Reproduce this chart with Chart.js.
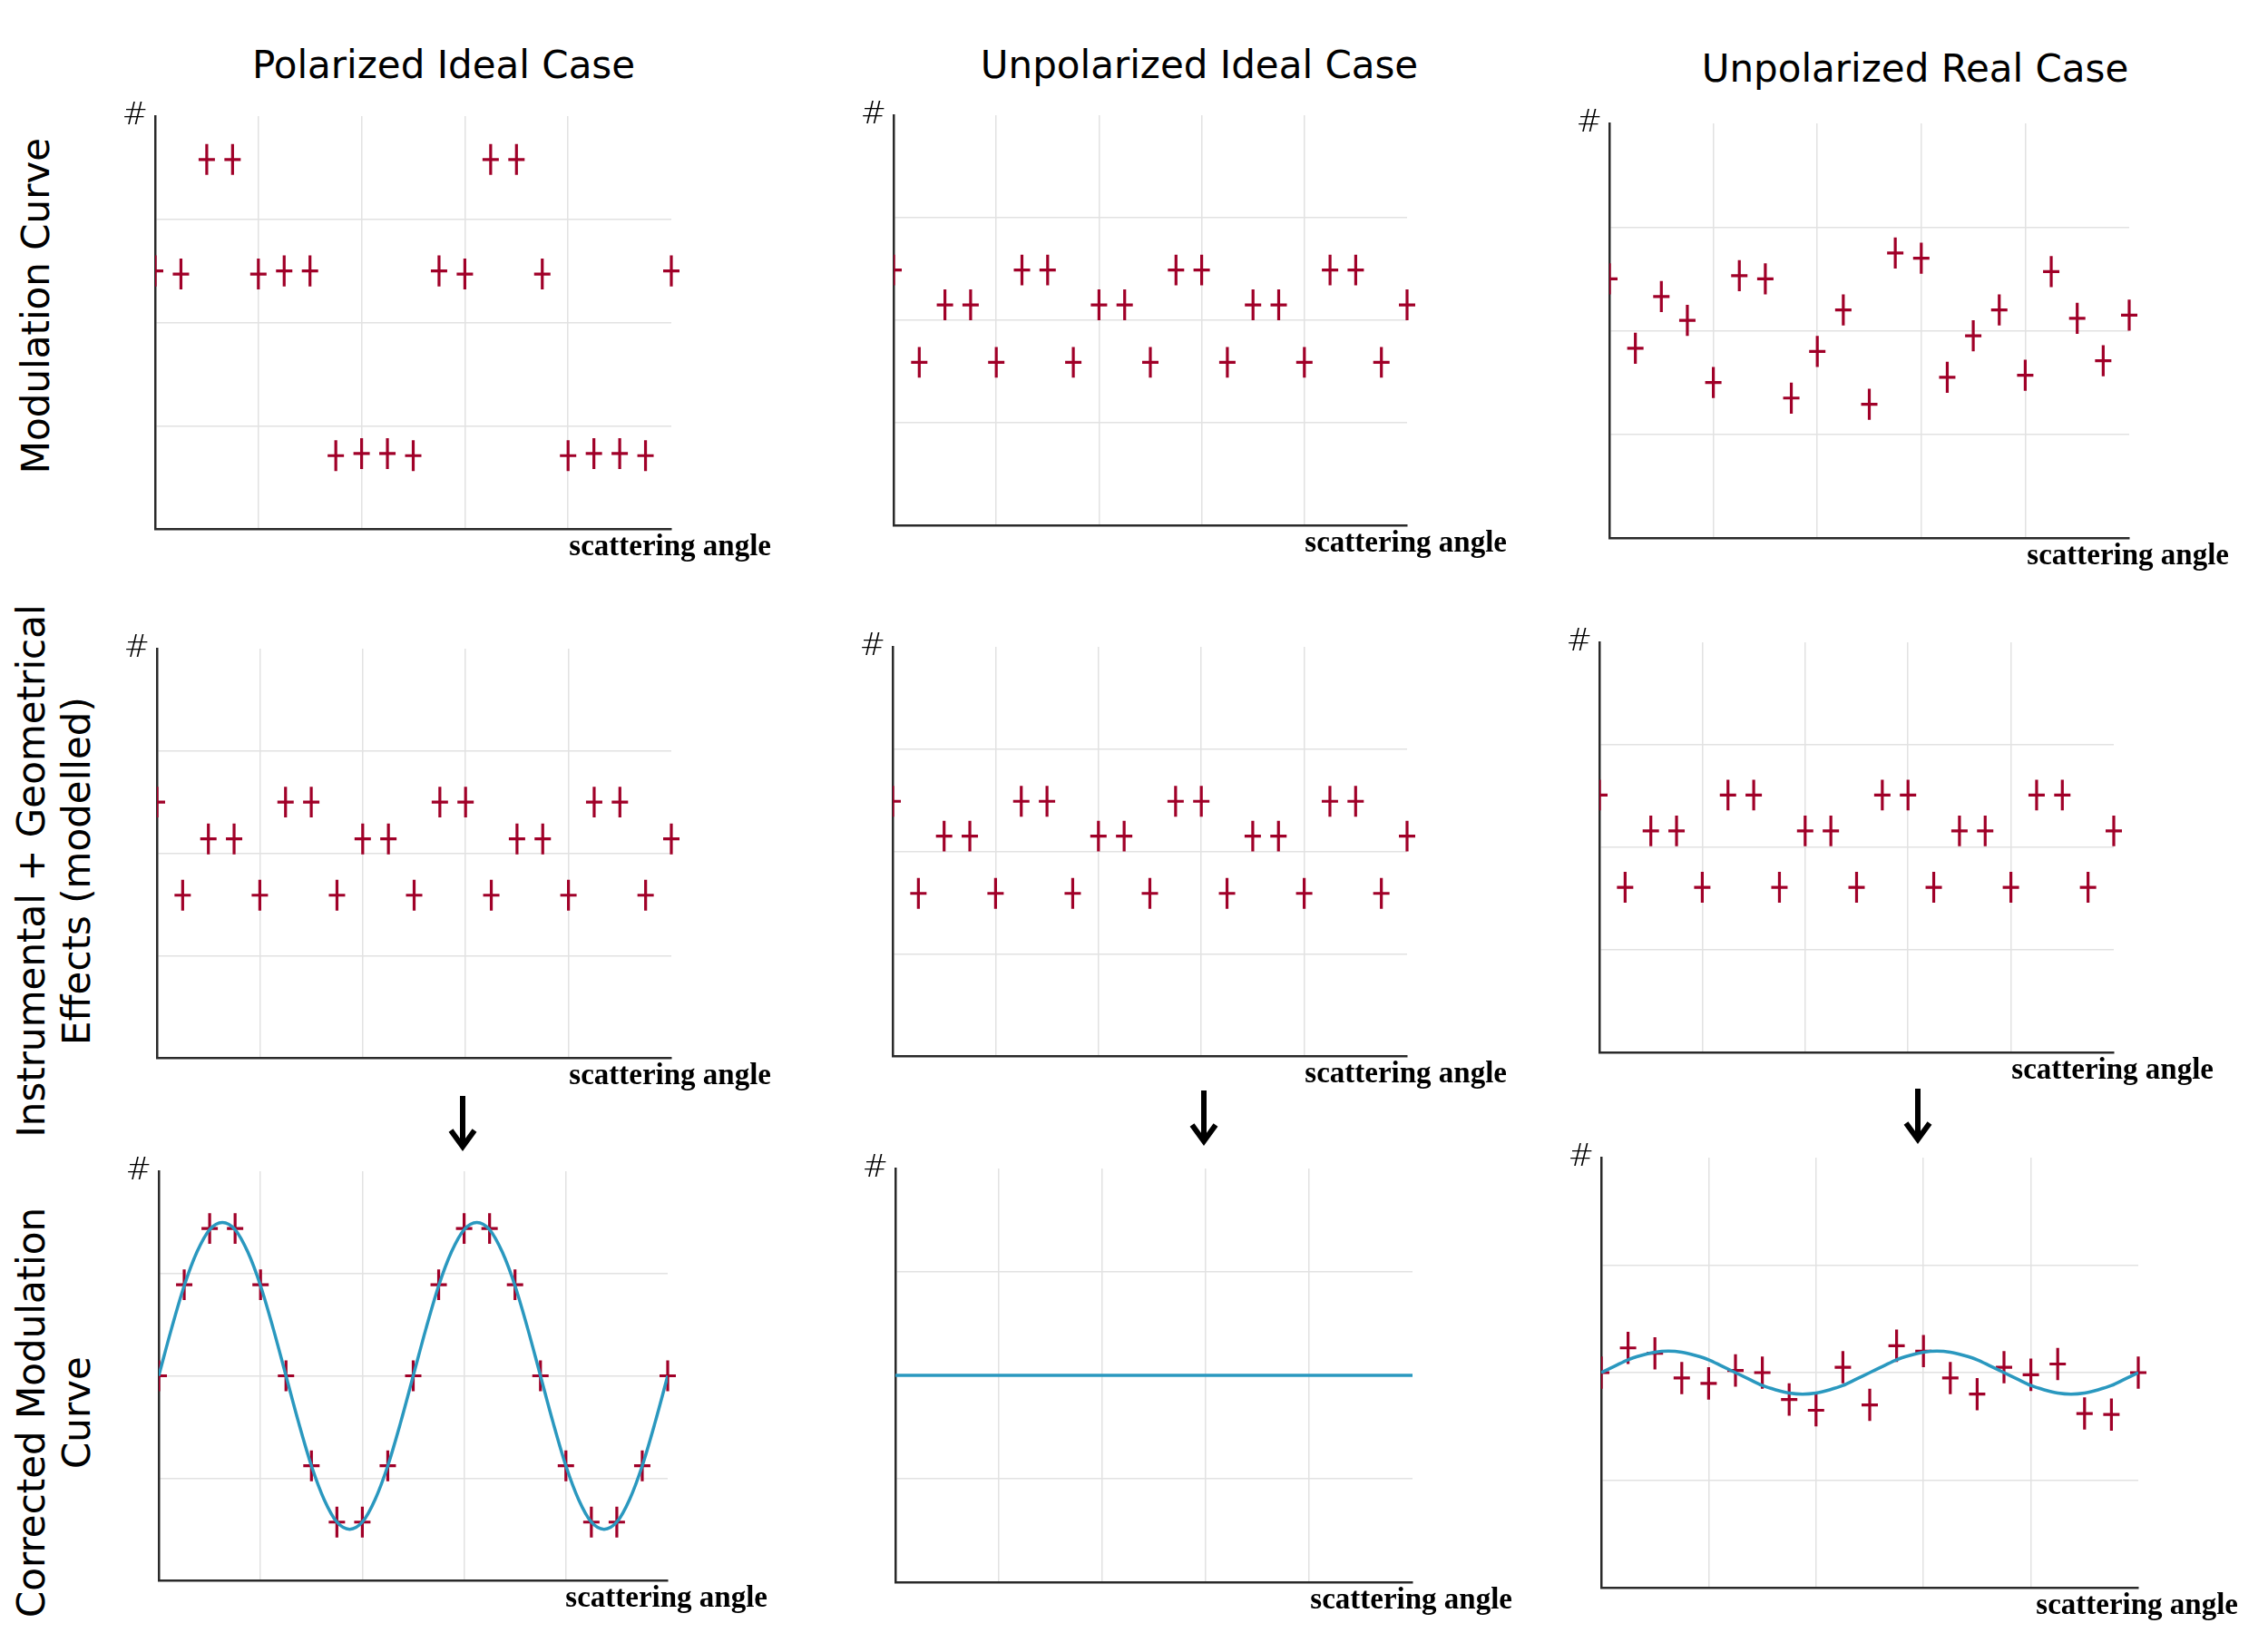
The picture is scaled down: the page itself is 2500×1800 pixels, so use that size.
<!DOCTYPE html>
<html>
<head>
<meta charset="utf-8">
<title>Modulation curves</title>
<script src="https://cdn.jsdelivr.net/npm/chart.js@4.4.1/dist/chart.umd.min.js"></script>
<style>
  body { margin: 0; width: 2500px; height: 1800px; background: #fff; position: relative; overflow: hidden;
         font-family: "DejaVu Sans", sans-serif; color: #000; }
  .title { position: absolute; font-size: 42px; white-space: nowrap; transform: translate(-50%, -50%); }
  .rowlab { position: absolute; font-size: 42px; line-height: 50px; text-align: center; white-space: nowrap;
            transform: translate(-50%, -50%) rotate(-90deg); }
  canvas { position: absolute; }
  svg { position: absolute; left: 0; top: 0; }
</style>
</head>
<body>

<div class="title" style="left:489px; top:71px">Polarized Ideal Case</div>
<div class="title" style="left:1322px; top:71px">Unpolarized Ideal Case</div>
<div class="title" style="left:2111px; top:75px">Unpolarized Real Case</div>

<div class="rowlab" style="left:40px; top:337px">Modulation Curve</div>
<div class="rowlab" style="left:60px; top:960px">Instrumental + Geometrical<br>Effects (modelled)</div>
<div class="rowlab" style="left:60px; top:1557px">Corrected Modulation<br>Curve</div>

<svg width="2500" height="1800">
  <g stroke="#000" stroke-width="6" fill="none" stroke-linecap="butt">
    <path d="M510 1208 V1262 M497 1246 L510 1264 L523 1246"/>
    <path d="M1327 1202 V1256 M1314 1240 L1327 1258 L1340 1240"/>
    <path d="M2114 1200 V1254 M2101 1238 L2114 1256 L2127 1238"/>
  </g>
</svg>

<canvas id="p11"></canvas>
<canvas id="p12"></canvas>
<canvas id="p13"></canvas>
<canvas id="p21"></canvas>
<canvas id="p22"></canvas>
<canvas id="p23"></canvas>
<canvas id="p31"></canvas>
<canvas id="p32"></canvas>
<canvas id="p33"></canvas>

<script>
// scattering angle bins (deg)
const angles = [0, 18, 36, 54, 72, 90, 108, 126, 144, 162, 180, 198, 216, 234, 252, 270, 288, 306, 324, 342, 360];
const fitAngles = [0, 9, 18, 27, 36, 45, 54, 63, 72, 81, 90, 99, 108, 117, 126, 135, 144, 153, 162, 171, 180,
                   189, 198, 207, 216, 225, 234, 243, 252, 261, 270, 279, 288, 297, 306, 315, 324, 333, 342, 351, 360];
const flatAngles = [0, 360];

// grid positions (no tick labels are shown)
const xTicks = [0, 72, 144, 216, 288, 360];
const yTicks = [0, 1, 2, 3, 4];

// row 1: measured modulation curves
const polModulation = [2.5, 2.47, 3.58, 3.58, 2.47, 2.5, 2.5, 0.71, 0.73, 0.73, 0.71, 2.5, 2.47, 3.58, 3.58, 2.47, 0.71, 0.73, 0.73, 0.71, 2.5];
const unpolIdealModulation = [2.49, 1.59, 2.15, 2.15, 1.59, 2.49, 2.49, 1.59, 2.15, 2.15, 1.59, 2.49, 2.49, 1.59, 2.15, 2.15, 1.59, 2.49, 2.49, 1.59, 2.15];
const unpolRealModulation = [2.5, 1.83, 2.33, 2.1, 1.5, 2.53, 2.5, 1.35, 1.8, 2.2, 1.29, 2.75, 2.7, 1.55, 1.95, 2.2, 1.57, 2.57, 2.12, 1.71, 2.15];

// row 2: instrumental + geometrical response
const instrPol = [2.5, 1.59, 2.14, 2.14, 1.59, 2.5, 2.5, 1.59, 2.14, 2.14, 1.59, 2.5, 2.5, 1.59, 2.14, 2.14, 1.59, 2.5, 2.5, 1.59, 2.14];
const instrUnpolIdeal = [2.49, 1.59, 2.15, 2.15, 1.59, 2.49, 2.49, 1.59, 2.15, 2.15, 1.59, 2.49, 2.49, 1.59, 2.15, 2.15, 1.59, 2.49, 2.49, 1.59, 2.15];
const instrUnpolReal = [2.51, 1.61, 2.16, 2.16, 1.61, 2.51, 2.51, 1.61, 2.16, 2.16, 1.61, 2.51, 2.51, 1.61, 2.16, 2.16, 1.61, 2.51, 2.51, 1.61, 2.16];

// row 3: corrected curves and fits
const polCorrected = [2.0, 2.89, 3.44, 3.44, 2.89, 2.0, 1.12, 0.57, 0.57, 1.12, 2.0, 2.89, 3.44, 3.44, 2.89, 2.0, 1.12, 0.57, 0.57, 1.12, 2.0];
const polFit = [2.0, 2.46, 2.88, 3.21, 3.43, 3.5, 3.43, 3.21, 2.88, 2.46, 2.0, 1.54, 1.12, 0.79, 0.57, 0.5, 0.57, 0.79, 1.12, 1.54, 2.0,
                2.46, 2.88, 3.21, 3.43, 3.5, 3.43, 3.21, 2.88, 2.46, 2.0, 1.54, 1.12, 0.79, 0.57, 0.5, 0.57, 0.79, 1.12, 1.54, 2.0];
const unpolIdealFit = [2.0, 2.0];
const unpolRealCorrected = [2.0, 2.23, 2.18, 1.95, 1.9, 2.02, 2.0, 1.75, 1.65, 2.05, 1.7, 2.25, 2.2, 1.95, 1.8, 2.05, 1.98, 2.08, 1.62, 1.61, 2.0];
const unpolRealFit = [2.0, 2.06, 2.12, 2.16, 2.19, 2.2, 2.19, 2.16, 2.12, 2.06, 2.0, 1.94, 1.88, 1.84, 1.81, 1.8, 1.81, 1.84, 1.88, 1.94, 2.0,
                      2.06, 2.12, 2.16, 2.19, 2.2, 2.19, 2.16, 2.12, 2.06, 2.0, 1.94, 1.88, 1.84, 1.81, 1.8, 1.81, 1.84, 1.88, 1.94, 2.0];

const errHalf = 0.15;

const markColor = '#a00028';
const fitColor = '#2a98bf';
const gridColor = '#e2e2e2';

// extra room around each plot area for '#' and the axis caption
const PAD = { left: 50, top: 30, right: 140, bottom: 50 };

// error-bar crosses, drawn under the fit line
const errorBars = {
  id: 'errorBars',
  beforeDatasetsDraw(chart) {
    const { ctx, chartArea, scales: { y } } = chart;
    ctx.save();
    ctx.beginPath();
    ctx.rect(chartArea.left, 0, chart.width - chartArea.left, chart.height);
    ctx.clip();
    ctx.strokeStyle = markColor;
    ctx.lineWidth = 3.2;
    chart.data.datasets.forEach((ds, i) => {
      if (!ds.errorBar) return;
      const meta = chart.getDatasetMeta(i);
      meta.data.forEach((pt, j) => {
        const v = ds.data[j].y;
        const yTop = y.getPixelForValue(v + ds.errorBar);
        const yBot = y.getPixelForValue(v - ds.errorBar);
        ctx.beginPath();
        ctx.moveTo(pt.x, yTop);
        ctx.lineTo(pt.x, yBot);
        ctx.moveTo(pt.x - 9, pt.y);
        ctx.lineTo(pt.x + 9, pt.y);
        ctx.stroke();
      });
    });
    ctx.restore();
  }
};

// '#' at the top of the y axis and the x-axis caption
const axisText = {
  id: 'axisText',
  afterDraw(chart) {
    const { ctx, chartArea: a } = chart;
    ctx.save();
    ctx.fillStyle = '#000';
    ctx.textBaseline = 'middle';
    ctx.textAlign = 'right';
    ctx.font = '200 34px "DejaVu Sans"';
    ctx.fillText('#', a.left - 8, a.top);
    ctx.font = 'bold 33px "Liberation Serif"';
    ctx.fillText('scattering angle', a.right + 110, a.bottom + 20);
    ctx.restore();
  }
};

function pts(xs, ys) {
  return ys.map((v, i) => ({ x: xs[i], y: v }));
}

function markSet(values) {
  return { type: 'scatter', data: pts(angles, values), pointRadius: 0, pointHoverRadius: 0,
           showLine: false, errorBar: errHalf, order: 2 };
}

function fitSet(xs, values) {
  return { type: 'line', data: pts(xs, values), borderColor: fitColor, borderWidth: 3.5,
           pointRadius: 0, cubicInterpolationMode: 'monotone', fill: false, order: 1 };
}

function gridLine(last) {
  return ctx => (ctx.tick.value === 0 || ctx.tick.value === last) ? 'rgba(0,0,0,0)' : gridColor;
}

// rect = plot area in page pixels: [left, top, right, bottom]
function makePanel(id, rect, datasets) {
  const [l, t, r, b] = rect;
  const cv = document.getElementById(id);
  cv.width = (r - l) + PAD.left + PAD.right;
  cv.height = (b - t) + PAD.top + PAD.bottom;
  cv.style.left = (l - PAD.left) + 'px';
  cv.style.top = (t - PAD.top) + 'px';
  new Chart(cv, {
    data: { datasets: datasets },
    options: {
      responsive: false,
      devicePixelRatio: 1,
      animation: false,
      layout: { padding: PAD },
      plugins: { legend: { display: false }, tooltip: { enabled: false } },
      scales: {
        x: {
          type: 'linear', min: xTicks[0], max: xTicks[xTicks.length - 1],
          afterBuildTicks: s => { s.ticks = xTicks.map(v => ({ value: v })); },
          ticks: { display: false },
          grid: { color: gridLine(xTicks[xTicks.length - 1]), lineWidth: 1.5, drawTicks: false },
          border: { display: true, color: '#2a2a2a', width: 2.5 }
        },
        y: {
          type: 'linear', min: yTicks[0], max: yTicks[yTicks.length - 1],
          afterBuildTicks: s => { s.ticks = yTicks.map(v => ({ value: v })); },
          ticks: { display: false },
          grid: { color: gridLine(yTicks[yTicks.length - 1]), lineWidth: 1.5, drawTicks: false },
          border: { display: true, color: '#2a2a2a', width: 2.5 }
        }
      }
    },
    plugins: [errorBars, axisText]
  });
}

makePanel('p11', [171, 128, 740, 583], [markSet(polModulation)]);
makePanel('p12', [985, 127, 1551, 579], [markSet(unpolIdealModulation)]);
makePanel('p13', [1774, 136, 2347, 593], [markSet(unpolRealModulation)]);

makePanel('p21', [173, 715, 740, 1166], [markSet(instrPol)]);
makePanel('p22', [984, 713, 1551, 1164], [markSet(instrUnpolIdeal)]);
makePanel('p23', [1763, 708, 2330, 1160], [markSet(instrUnpolReal)]);

makePanel('p31', [175, 1291, 736, 1742], [markSet(polCorrected), fitSet(fitAngles, polFit)]);
makePanel('p32', [987, 1288, 1557, 1744], [fitSet(flatAngles, unpolIdealFit)]);
makePanel('p33', [1765, 1276, 2357, 1750], [markSet(unpolRealCorrected), fitSet(fitAngles, unpolRealFit)]);
</script>
</body>
</html>
